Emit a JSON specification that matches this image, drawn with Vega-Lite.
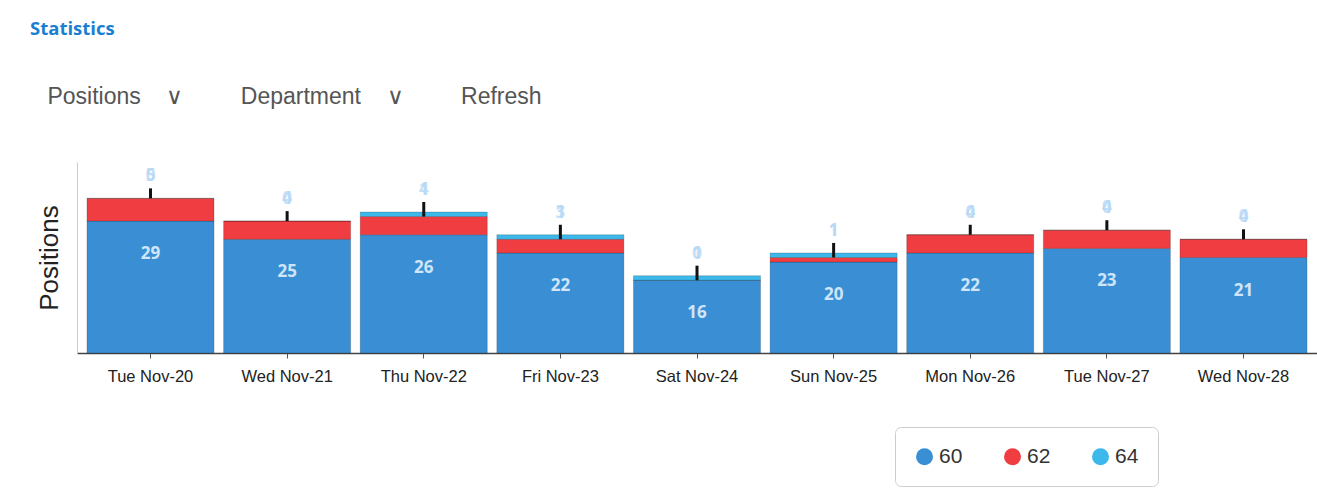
{
  "$schema": "https://vega.github.io/schema/vega-lite/v6.json",
  "width": 1240,
  "height": 191,
  "autosize": {"type": "none"},
  "padding": {"left": 77, "top": 162, "right": 0, "bottom": 143},
  "background": "white",
  "config": {"view": {"stroke": null}},
  "title": {
    "text": "Statistics",
    "subtitle": "\u200b\u00a0\u00a0\u2009Positions\u00a0\u00a0\u00a0\u00a0\u2228\u00a0\u00a0\u00a0\u00a0\u00a0\u00a0\u00a0\u00a0\u00a0Department\u00a0\u00a0\u00a0\u00a0\u2228\u00a0\u00a0\u00a0\u00a0\u00a0\u00a0\u00a0\u00a0\u00a0Refresh",
    "anchor": "start",
    "frame": "group",
    "dx": -47,
    "offset": 53,
    "font": "Open Sans",
    "fontSize": 18.5,
    "fontWeight": "bold",
    "color": "#1a7fd0",
    "subtitleFont": "Liberation Sans",
    "subtitleFontSize": 23,
    "subtitleColor": "#555555",
    "subtitlePadding": 48
  },
  "datasets": {
    "bars": [
      {"date": "Tue Nov-20", "series": "60", "value": 29, "ord": 1},
      {"date": "Tue Nov-20", "series": "62", "value": 5, "ord": 2},
      {"date": "Tue Nov-20", "series": "64", "value": 0, "ord": 3},
      {"date": "Wed Nov-21", "series": "60", "value": 25, "ord": 1},
      {"date": "Wed Nov-21", "series": "62", "value": 4, "ord": 2},
      {"date": "Wed Nov-21", "series": "64", "value": 0, "ord": 3},
      {"date": "Thu Nov-22", "series": "60", "value": 26, "ord": 1},
      {"date": "Thu Nov-22", "series": "62", "value": 4, "ord": 2},
      {"date": "Thu Nov-22", "series": "64", "value": 1, "ord": 3},
      {"date": "Fri Nov-23", "series": "60", "value": 22, "ord": 1},
      {"date": "Fri Nov-23", "series": "62", "value": 3, "ord": 2},
      {"date": "Fri Nov-23", "series": "64", "value": 1, "ord": 3},
      {"date": "Sat Nov-24", "series": "60", "value": 16, "ord": 1},
      {"date": "Sat Nov-24", "series": "62", "value": 0, "ord": 2},
      {"date": "Sat Nov-24", "series": "64", "value": 1, "ord": 3},
      {"date": "Sun Nov-25", "series": "60", "value": 20, "ord": 1},
      {"date": "Sun Nov-25", "series": "62", "value": 1, "ord": 2},
      {"date": "Sun Nov-25", "series": "64", "value": 1, "ord": 3},
      {"date": "Mon Nov-26", "series": "60", "value": 22, "ord": 1},
      {"date": "Mon Nov-26", "series": "62", "value": 4, "ord": 2},
      {"date": "Mon Nov-26", "series": "64", "value": 0, "ord": 3},
      {"date": "Tue Nov-27", "series": "60", "value": 23, "ord": 1},
      {"date": "Tue Nov-27", "series": "62", "value": 4, "ord": 2},
      {"date": "Tue Nov-27", "series": "64", "value": 0, "ord": 3},
      {"date": "Wed Nov-28", "series": "60", "value": 21, "ord": 1},
      {"date": "Wed Nov-28", "series": "62", "value": 4, "ord": 2},
      {"date": "Wed Nov-28", "series": "64", "value": 0, "ord": 3}
    ],
    "summary": [
      {"date": "Tue Nov-20", "blue": 29, "red": 5, "cyan": 0, "lo": 34, "hi": 36.2},
      {"date": "Wed Nov-21", "blue": 25, "red": 4, "cyan": 0, "lo": 29, "hi": 31.2},
      {"date": "Thu Nov-22", "blue": 26, "red": 4, "cyan": 1, "lo": 30, "hi": 33.2},
      {"date": "Fri Nov-23", "blue": 22, "red": 3, "cyan": 1, "lo": 25, "hi": 28.2},
      {"date": "Sat Nov-24", "blue": 16, "red": 0, "cyan": 1, "lo": 16, "hi": 19.2},
      {"date": "Sun Nov-25", "blue": 20, "red": 1, "cyan": 1, "lo": 21, "hi": 24.2},
      {"date": "Mon Nov-26", "blue": 22, "red": 4, "cyan": 0, "lo": 26, "hi": 28.2},
      {"date": "Tue Nov-27", "blue": 23, "red": 4, "cyan": 0, "lo": 27, "hi": 29.2},
      {"date": "Wed Nov-28", "blue": 21, "red": 4, "cyan": 0, "lo": 25, "hi": 27.2}
    ]
  },
  "encoding": {
    "x": {
      "field": "date",
      "type": "nominal",
      "sort": null,
      "scale": {"paddingInner": 0.07, "paddingOuter": 0.073},
      "axis": {
        "title": null,
        "labelAngle": 0,
        "labelFont": "Liberation Sans",
        "labelFontSize": 16.5,
        "labelColor": "#222222",
        "labelPadding": 10,
        "tickSize": 5,
        "tickColor": "#555555",
        "domainColor": "#444444",
        "domainWidth": 1.5
      }
    }
  },
  "layer": [
    {
      "data": {"name": "bars"},
      "mark": {"type": "bar", "stroke": "#000000", "strokeOpacity": 0.18, "strokeWidth": 1},
      "encoding": {
        "y": {
          "field": "value",
          "type": "quantitative",
          "stack": "zero",
          "scale": {"domain": [0, 42], "nice": false},
          "axis": {
            "title": "Positions",
            "titleFont": "Liberation Sans",
            "titleFontSize": 26,
            "titleFontWeight": "normal",
            "titleColor": "#222222",
            "titlePadding": 15,
            "labels": false,
            "ticks": false,
            "grid": false,
            "domainColor": "#cccccc",
            "domainWidth": 1
          }
        },
        "color": {
          "field": "series",
          "type": "nominal",
          "scale": {"domain": ["60", "62", "64"], "range": ["#3a8fd4", "#ef3d42", "#3db8ea"]},
          "legend": {
            "title": null,
            "orient": "none",
            "legendX": 818,
            "legendY": 265,
            "direction": "horizontal",
            "symbolType": "circle",
            "symbolSize": 289,
            "symbolStrokeWidth": 0,
            "symbolOpacity": 1,
            "labelFont": "Liberation Sans",
            "labelFontSize": 21,
            "labelColor": "#333333",
            "labelOffset": 4,
            "columnPadding": 39,
            "padding": 19,
            "strokeColor": "#cccccc",
            "cornerRadius": 6,
            "fillColor": "white"
          }
        },
        "order": {"field": "ord", "type": "quantitative"}
      }
    },
    {
      "data": {"name": "summary"},
      "mark": {"type": "rule", "color": "#111111", "strokeWidth": 3},
      "encoding": {
        "y": {"field": "lo", "type": "quantitative"},
        "y2": {"field": "hi"}
      }
    },
    {
      "data": {"name": "summary"},
      "mark": {"type": "text", "font": "Open Sans", "fontSize": 17, "fontWeight": "bold", "color": "#cfe5f9", "dy": 33, "baseline": "middle"},
      "encoding": {
        "y": {"field": "blue", "type": "quantitative"},
        "text": {"field": "blue", "type": "quantitative"}
      }
    },
    {
      "data": {"name": "summary"},
      "mark": {"type": "text", "font": "Open Sans", "fontSize": 17, "fontWeight": "bold", "color": "#b5d8f6", "opacity": 0.8, "dy": -12, "baseline": "middle"},
      "encoding": {
        "y": {"field": "hi", "type": "quantitative"},
        "text": {"field": "red", "type": "quantitative"}
      }
    },
    {
      "data": {"name": "summary"},
      "mark": {"type": "text", "font": "Open Sans", "fontSize": 17, "fontWeight": "bold", "color": "#b5d8f6", "opacity": 0.8, "dy": -12, "baseline": "middle"},
      "encoding": {
        "y": {"field": "hi", "type": "quantitative"},
        "text": {"field": "cyan", "type": "quantitative"}
      }
    }
  ]
}
